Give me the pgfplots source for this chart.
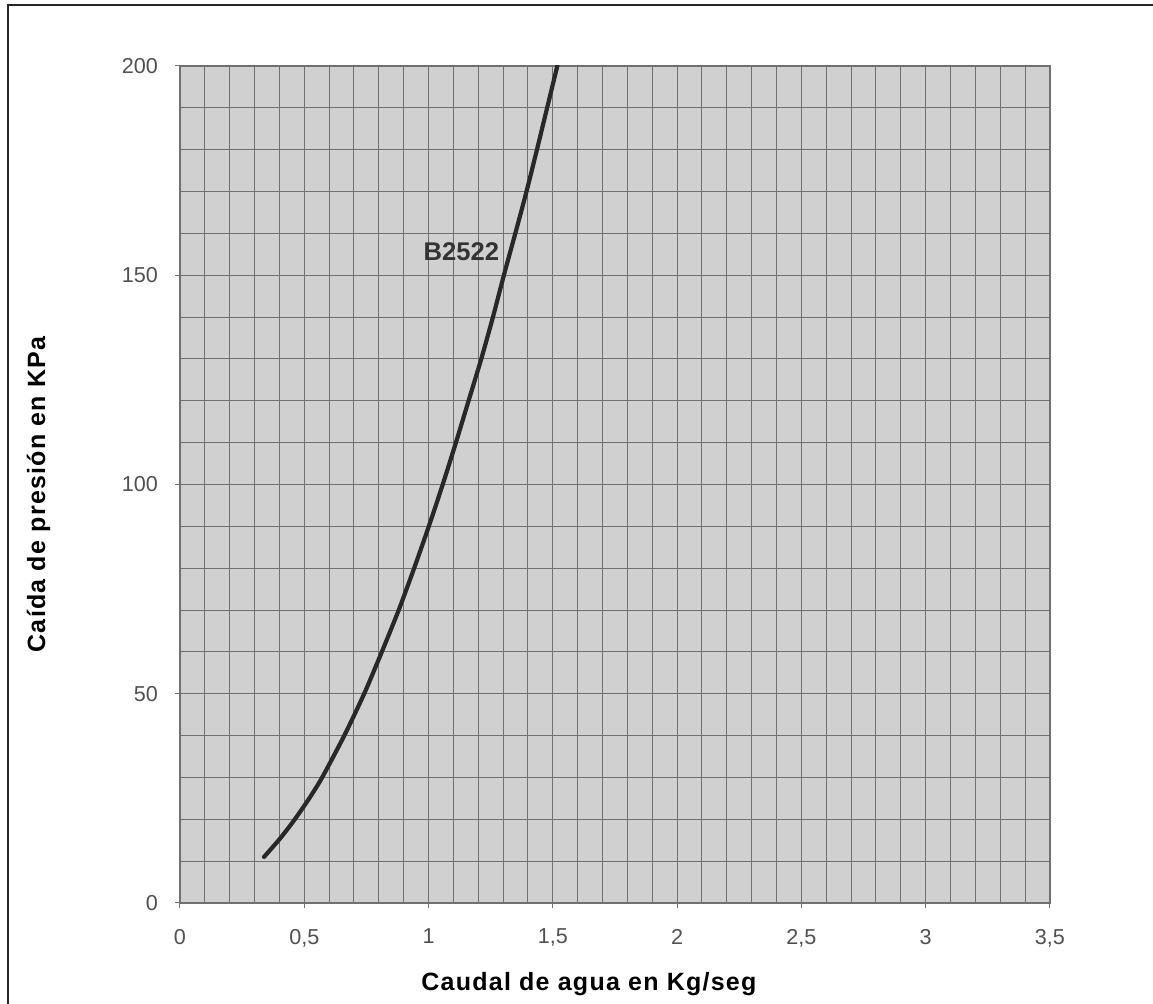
\documentclass[border=0pt]{standalone}
\usepackage{fontspec}
\setmainfont{Liberation Sans}
\usepackage{pgfplots}
\pgfplotsset{compat=1.18}
\definecolor{bgc}{RGB}{208,208,208}
\definecolor{gridc}{RGB}{112,112,112}
\definecolor{curvec}{RGB}{40,40,40}
\definecolor{tickc}{RGB}{80,80,80}
\begin{document}
\begin{tikzpicture}
\useasboundingbox (-90pt,-50.5pt) rectangle (486.5pt,451.5pt);
\draw[line width=1pt, black!85] (-86pt,-50.5pt) -- (-86pt,449pt) -- (486.5pt,449pt);
\begin{axis}[
  at={(0,0)}, anchor=south west,
  scale only axis, width=435pt, height=418.5pt,
  xmin=0, xmax=3.5, ymin=0, ymax=200,
  xtick={0,0.5,1,1.5,2,2.5,3,3.5},
  xticklabels={0,{0,5},1,{1,5},2,{2,5},3,{3,5}},
  ytick={0,50,100,150,200},
  yticklabels={0,50,100,150,200},
  xtick pos=bottom, ytick pos=left,
  minor x tick num=4, minor y tick num=4,
  grid=both,
  major grid style={gridc, line width=0.5pt},
  minor grid style={gridc, line width=0.5pt},
  axis line style={gridc, line width=0.6pt},
  tick style={gridc, line width=0.5pt},
  major tick length=2.5pt, minor tick length=0pt,
  tick align=outside,
  axis background/.style={fill=bgc},
  /pgf/number format/assume math mode=true,
  ticklabel style={font=\fontsize{10.8}{12}\selectfont, text=tickc},
  xticklabel style={yshift=-7pt},
  yticklabel style={xshift=-5pt},
  xlabel={Caudal de agua en Kg/seg},
  ylabel={Caída de presión en KPa},
  label style={font=\bfseries\fontsize{12.5}{14}\selectfont\addfontfeature{LetterSpace=5}},
  xlabel style={at={(axis description cs:0.47,-0.104)}, anchor=base},
  ylabel style={at={(axis description cs:-0.155,0.488)}, anchor=base},
]
\addplot[curvec, line width=2.1pt, line join=round, line cap=round, smooth, tension=0.4] coordinates {
(0.338,11) (0.404,15.5) (0.462,20) (0.520,25) (0.572,30) (0.661,40) (0.741,50) (0.812,60)
(0.880,70) (0.942,80) (1.001,90) (1.057,100) (1.110,110) (1.161,120) (1.212,130)
(1.259,140) (1.303,150) (1.349,160) (1.394,170) (1.436,180) (1.477,190) (1.518,200)
};
\node[font=\bfseries\fontsize{12.8}{15}\selectfont, text=black!80] at (axis cs:1.132,155.7) {B2522};
\end{axis}
\end{tikzpicture}
\end{document}
